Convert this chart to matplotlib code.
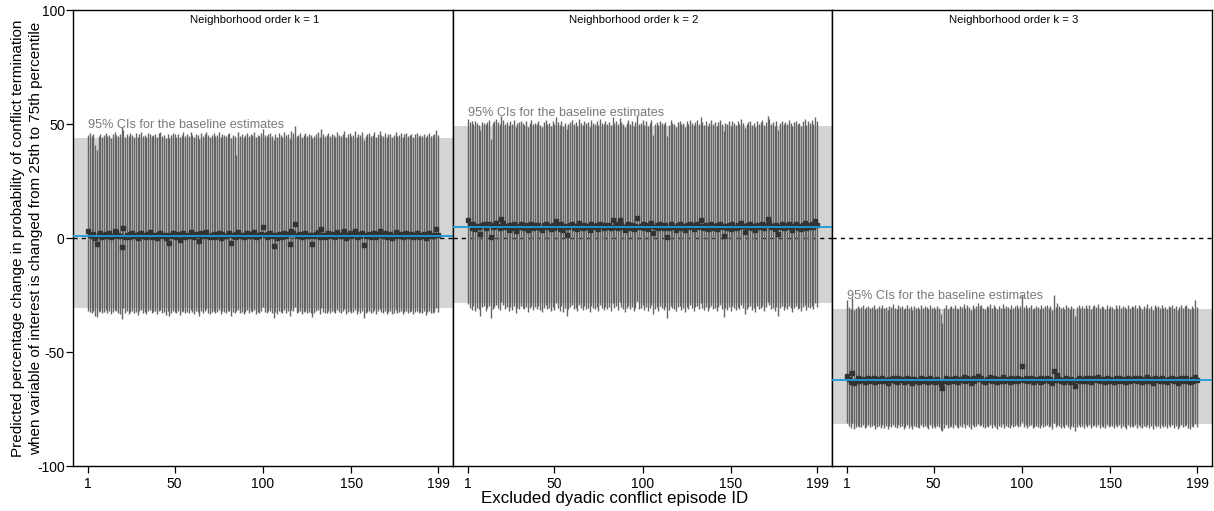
import matplotlib
matplotlib.use("Agg")
import matplotlib.pyplot as plt
import numpy as np

plt.rcParams['font.family'] = ['Liberation Sans', 'DejaVu Sans']

episode_ids = list(range(1, 200))
x_ticks = [1, 50, 100, 150, 199]
y_ticks = [-100, -50, 0, 50, 100]
panel_titles = ["Neighborhood order k = 1", "Neighborhood order k = 2", "Neighborhood order k = 3"]
band_label = "95% CIs for the baseline estimates"

# baseline estimates and their 95% CIs (k = 1, 2, 3)
baseline_est = [1.0, 5.0, -62.3]
baseline_lo = [-30.7, -28.5, -81.6]
baseline_hi = [43.9, 49.1, -31.1]

est_k1 = [3.2, 1.5, 0.8, 1.9, 0.2, -2.6, 1.1, 2.0, 0.5, 1.4, 1.8, 0.9, 2.2, 0.4, 1.0, 3.2, 2.6, 1.3, 0.7, -4.1,
          4.2, 0.6, 1.2, 0.3, 1.7, 2.4, 0.9, 1.1, 0.0, 1.6, 2.1, 0.8, 1.3, 0.5, 1.9, 2.5, 0.4, 1.0, 1.4, 0.2,
          1.8, 2.3, 0.7, 1.2, 0.1, 1.5, -2.3, 0.9, 2.0, 1.3, 0.6, 1.7, -0.8, 1.1, 2.2, 0.5, 1.4, 0.8, 2.6, 1.0,
          0.3, 1.6, 1.2, -1.2, 2.1, 0.7, 1.5, 2.8, 0.9, 0.4, 1.3, 1.9, 0.6, 1.1, 2.4, 0.2, 1.7, 1.0, 0.8, 1.5,
          2.0, -2.3, 1.2, 0.5, 1.8, 2.6, 0.9, 1.4, 0.3, 1.1, 2.2, 0.7, 1.6, 1.0, 2.5, 0.4, 1.3, 0.8, 1.9, 4.7,
          1.2, 0.6, 1.7, 2.1, 0.9, -3.4, 1.4, 0.2, 1.8, 1.1, 0.5, 2.3, 1.0, 1.6, -2.7, 3.0, 2.4, 6.0, 0.8, 1.3,
          1.9, 0.4, 1.2, 2.0, 0.7, 1.5, 1.1, -2.6, 0.9, 1.7, 2.5, 0.3, 3.8, 1.4, 0.6, 1.0, 2.2, 0.8, 1.6, 1.3,
          0.5, 2.7, 1.1, 0.9, 1.8, 3.1, 0.2, 1.4, 2.0, 0.7, 1.2, 2.9, 0.4, 1.6, 1.0, 2.3, -3.1, 0.8, 1.5, 1.9,
          0.6, 1.2, 2.4, 0.3, 1.7, 3.0, 1.1, 0.9, 2.1, 0.5, 1.4, 1.8, 0.2, 1.0, 2.6, 0.7, 1.3, 1.9, 0.4, 1.5,
          2.2, 0.8, 1.1, 1.7, 0.3, 1.4, 2.0, 0.6, 1.2, 0.9, 1.6, 0.1, 1.3, 2.1, 0.7, 1.0, 1.5, 3.8, 1.2]
hi_k1 = [45.2, 46.0, 44.8, 45.5, 40.8, 38.6, 44.9, 45.7, 44.3, 45.1, 46.2, 44.6, 45.3, 44.0, 45.8, 46.5, 45.0, 44.7, 45.4, 48.8,
         47.5, 44.2, 45.6, 44.9, 46.1, 45.3, 44.5, 45.9, 44.1, 45.7, 46.3, 44.8, 45.2, 44.4, 46.0, 45.5, 44.6, 45.1, 45.8, 44.3,
         45.9, 46.4, 44.7, 45.3, 44.0, 45.6, 43.8, 45.0, 46.2, 45.4, 44.5, 45.8, 44.2, 45.1, 46.3, 44.6, 45.5, 44.9, 46.7, 45.2,
         44.4, 45.7, 45.3, 43.6, 46.0, 44.8, 45.4, 46.6, 45.0, 44.5, 45.2, 45.9, 44.7, 45.1, 46.4, 44.2, 45.7, 45.0, 44.9, 45.6,
         46.1, 43.9, 45.3, 44.6, 36.4, 46.5, 44.9, 45.5, 44.3, 45.1, 46.2, 44.8, 45.7, 45.0, 46.4, 44.4, 45.3, 44.9, 45.9, 48.0,
         45.3, 44.6, 45.8, 46.1, 44.9, 42.8, 45.4, 44.2, 45.9, 45.1, 44.5, 46.3, 45.0, 45.7, 43.5, 46.8, 46.2, 49.2, 44.8, 45.3,
         45.9, 44.4, 45.2, 46.0, 44.7, 45.5, 45.1, 43.7, 44.9, 45.7, 46.4, 44.3, 47.6, 45.4, 44.6, 45.0, 46.2, 44.8, 45.6, 45.3,
         44.5, 46.6, 45.1, 44.9, 45.8, 46.9, 44.2, 45.4, 46.0, 44.7, 45.2, 46.8, 44.4, 45.6, 45.0, 46.3, 43.2, 44.8, 45.5, 45.9,
         44.6, 45.2, 46.4, 44.3, 45.7, 46.8, 45.1, 44.9, 46.1, 44.5, 45.4, 45.8, 44.2, 45.0, 46.5, 44.7, 45.3, 45.9, 44.4, 45.5,
         46.2, 44.8, 45.1, 45.7, 44.3, 45.4, 46.0, 44.6, 45.2, 44.9, 45.6, 44.1, 45.3, 46.1, 44.7, 45.0, 45.5, 47.3, 45.2]
lo_k1 = [-31.8, -32.6, -33.1, -32.0, -34.2, -34.8, -32.4, -31.9, -33.0, -32.3, -31.6, -32.8, -32.1, -33.4, -32.5, -31.7, -32.0, -32.9, -33.2, -35.6,
         -30.9, -33.0, -32.2, -33.5, -32.4, -31.8, -32.9, -32.6, -33.7, -32.1, -31.5, -32.7, -32.3, -33.2, -31.9, -31.6, -33.1, -32.5, -32.0, -33.4,
         -32.2, -31.7, -32.9, -32.4, -33.6, -32.0, -34.3, -32.8, -31.9, -32.5, -33.0, -32.1, -33.9, -32.6, -31.8, -33.1, -32.3, -32.7, -31.4, -32.5,
         -33.3, -32.0, -32.4, -34.0, -31.9, -32.8, -32.2, -31.3, -32.7, -33.2, -32.5, -32.0, -32.9, -32.6, -31.7, -33.4, -32.1, -32.6, -32.8, -32.2,
         -31.8, -34.2, -32.5, -33.1, -32.0, -31.6, -32.8, -32.3, -33.4, -32.6, -31.7, -32.9, -32.1, -32.6, -31.5, -33.2, -32.4, -32.8, -32.0, -30.4,
         -32.4, -33.0, -32.1, -31.8, -32.9, -35.0, -32.3, -33.5, -32.0, -32.6, -33.1, -31.7, -32.7, -32.2, -34.4, -31.4, -31.9, -30.1, -32.9, -32.5,
         -31.9, -33.2, -32.6, -32.0, -32.8, -32.3, -32.7, -34.6, -32.9, -32.1, -31.6, -33.4, -30.9, -32.4, -33.0, -32.7, -31.8, -32.9, -32.2, -32.5,
         -33.1, -31.5, -32.6, -32.8, -32.0, -31.2, -33.5, -32.4, -31.9, -32.9, -32.5, -31.4, -33.3, -32.2, -32.7, -31.8, -34.9, -32.9, -32.3, -32.0,
         -33.0, -32.5, -31.7, -33.4, -32.1, -31.3, -32.6, -32.8, -31.9, -33.2, -32.4, -32.0, -33.5, -32.7, -31.6, -32.9, -32.4, -31.9, -33.3, -32.3,
         -31.8, -32.9, -32.6, -32.1, -33.4, -32.4, -31.9, -33.1, -32.5, -32.8, -32.2, -33.6, -32.5, -31.8, -32.9, -32.7, -32.3, -30.8, -32.6]

est_k2 = [7.9, 5.6, 4.4, 6.1, 3.8, 5.2, 4.7, 1.6, 5.9, 6.3, 4.2, 5.5, 6.0, 0.6, 4.9, 5.8, 6.4, 5.1, 4.5, 8.2,
          6.6, 4.8, 5.3, 3.6, 5.9, 4.3, 6.2, 3.1, 5.4, 4.9, 6.0, 5.2, 4.6, 5.7, 3.4, 5.0, 6.1, 4.4, 5.5, 4.8,
          5.9, 4.2, 3.3, 5.6, 6.2, 4.7, 5.1, 3.9, 5.8, 4.5, 7.5, 5.3, 4.1, 6.0, 3.7, 5.4, 1.3, 4.9, 5.7, 6.3,
          4.6, 5.2, 3.8, 6.5, 5.0, 4.3, 5.9, 4.8, 5.4, 3.5, 6.1, 5.1, 4.7, 5.6, 4.0, 6.3, 5.3, 4.5, 5.8, 4.9,
          5.5, 4.2, 7.9, 5.0, 6.0, 4.4, 7.9, 5.7, 4.8, 3.6, 5.3, 6.1, 4.6, 5.9, 4.1, 5.4, 8.9, 4.7, 5.2, 6.2,
          4.3, 5.8, 3.9, 5.1, 6.4, 2.3, 4.8, 5.5, 4.2, 6.0, 5.0, 4.6, 5.7, 0.3, 4.4, 6.2, 5.3, 4.9, 3.7, 5.6,
          6.1, 4.5, 5.2, 3.4, 5.8, 4.7, 6.3, 5.0, 4.1, 5.5, 6.0, 4.8, 7.9, 5.3, 4.4, 5.9, 3.8, 5.1, 6.2, 4.6,
          5.4, 4.0, 5.7, 6.3, 4.9, 1.0, 5.2, 4.5, 5.8, 3.9, 6.1, 5.0, 4.3, 5.6, 4.7, 6.4, 5.3, 2.8, 4.8, 5.5,
          6.0, 4.4, 5.1, 3.6, 5.9, 4.7, 5.4, 6.2, 4.2, 5.7, 8.2, 6.6, 4.9, 5.3, 3.9, 5.8, 1.6, 5.0, 6.1, 4.5,
          5.6, 4.8, 6.3, 5.1, 3.7, 5.4, 6.0, 4.6, 5.2, 4.1, 5.9, 6.5, 4.4, 5.7, 5.0, 6.2, 4.9, 7.5, 5.8]
hi_k2 = [52.4, 50.8, 51.5, 49.9, 51.2, 50.4, 49.6, 47.3, 51.0, 50.6, 49.8, 50.9, 51.8, 43.5, 50.3, 51.4, 52.1, 50.7, 49.9, 53.6,
         51.9, 50.2, 50.8, 49.4, 51.3, 50.0, 51.6, 48.6, 50.5, 50.9, 51.5, 50.3, 49.7, 51.1, 48.9, 50.6, 51.7, 49.8, 50.4, 50.1,
         51.2, 49.6, 48.8, 50.7, 51.8, 50.2, 50.6, 49.3, 51.4, 50.0, 53.1, 50.8, 49.5, 51.3, 49.1, 50.5, 47.6, 50.1, 51.0, 51.9,
         49.9, 50.7, 49.2, 52.0, 50.4, 49.7, 51.2, 50.3, 50.8, 48.9, 51.6, 50.5, 50.0, 51.1, 49.4, 52.2, 50.6, 49.8, 51.3, 50.2,
         50.9, 49.5, 53.0, 50.4, 51.5, 49.9, 52.8, 51.0, 50.1, 48.7, 50.6, 51.7, 49.8, 51.2, 49.3, 50.7, 54.0, 50.0, 50.5, 51.6,
         49.6, 51.1, 49.0, 50.4, 51.9, 45.2, 50.2, 50.8, 49.5, 51.4, 50.3, 49.9, 51.0, 44.8, 49.7, 51.6, 50.6, 50.2, 48.9, 50.9,
         51.5, 49.8, 50.5, 48.8, 51.2, 50.0, 51.8, 50.3, 49.4, 50.9, 51.6, 50.1, 53.2, 50.7, 49.6, 51.3, 49.1, 50.4, 51.9, 49.9,
         50.8, 49.2, 51.0, 51.7, 50.2, 47.1, 50.5, 49.8, 51.3, 49.0, 51.5, 50.3, 49.6, 51.1, 50.0, 52.0, 50.6, 48.3, 50.1, 50.9,
         51.4, 49.7, 50.4, 48.9, 51.3, 50.0, 50.8, 51.6, 49.5, 51.0, 53.4, 52.1, 50.2, 50.7, 49.2, 51.2, 47.5, 50.3, 51.5, 49.8,
         51.0, 50.1, 51.7, 50.4, 49.0, 50.8, 51.4, 49.9, 50.5, 49.3, 51.2, 52.0, 49.6, 51.1, 50.3, 51.8, 50.2, 53.0, 51.3]
lo_k2 = [-28.9, -30.6, -31.5, -29.8, -32.0, -30.9, -31.3, -34.1, -30.2, -29.7, -31.8, -30.5, -30.0, -35.0, -31.1, -30.3, -29.6, -30.8, -31.4, -28.0,
         -29.2, -31.0, -30.4, -32.2, -30.1, -31.6, -29.9, -32.7, -30.7, -31.0, -29.8, -30.6, -31.2, -30.3, -32.5, -30.9, -29.7, -31.5, -30.4, -31.1,
         -30.0, -31.7, -32.6, -30.5, -29.6, -31.2, -30.8, -32.0, -30.2, -31.4, -28.4, -30.6, -31.9, -29.8, -32.3, -30.7, -34.4, -31.0, -30.3, -29.5,
         -31.3, -30.6, -32.1, -29.3, -30.9, -31.6, -30.0, -31.1, -30.5, -32.4, -29.7, -30.8, -31.2, -30.4, -31.9, -29.4, -30.7, -31.5, -30.1, -31.0,
         -30.4, -31.8, -28.3, -30.9, -29.9, -31.7, -28.2, -30.3, -31.1, -32.3, -30.6, -29.8, -31.3, -30.1, -32.0, -30.5, -27.6, -31.2, -30.7, -29.6,
         -31.5, -30.2, -32.0, -30.8, -29.5, -33.5, -31.0, -30.4, -31.8, -29.9, -30.9, -31.4, -30.2, -35.3, -31.5, -29.7, -30.6, -31.0, -32.1, -30.3,
         -29.8, -31.6, -30.8, -32.6, -30.2, -31.2, -29.6, -30.9, -31.9, -30.4, -29.9, -31.1, -28.3, -30.6, -31.6, -30.1, -32.2, -30.8, -29.7, -31.3,
         -30.5, -32.0, -30.3, -29.6, -31.0, -34.8, -30.7, -31.4, -30.1, -32.1, -29.8, -30.9, -31.7, -30.4, -31.2, -29.5, -30.6, -33.2, -31.0, -30.4,
         -29.9, -31.5, -30.8, -32.4, -30.0, -31.3, -30.6, -29.8, -31.8, -30.2, -27.9, -29.4, -31.1, -30.6, -32.1, -30.1, -34.3, -30.9, -29.9, -31.4,
         -30.3, -31.1, -29.7, -30.8, -32.3, -30.5, -29.9, -31.3, -30.7, -31.9, -30.1, -29.5, -31.6, -30.2, -30.9, -29.8, -31.0, -28.4, -30.1]

est_k3 = [-60.4, -61.8, -63.0, -59.1, -63.4, -62.6, -61.5, -62.9, -62.2, -61.7, -63.1, -62.4, -61.6, -62.8, -62.0, -61.4, -63.3, -62.5, -61.9, -62.7,
          -61.3, -62.9, -62.1, -63.5, -61.8, -62.4, -61.2, -62.7, -63.0, -61.6, -62.3, -61.9, -63.2, -62.6, -61.5, -62.8, -62.0, -63.4, -61.7, -62.5,
          -62.2, -63.1, -61.4, -62.7, -61.9, -62.4, -63.3, -61.6, -62.9, -62.1, -63.0, -61.8, -62.5, -64.1, -65.6, -62.8, -61.5, -63.2, -62.3, -61.7,
          -62.9, -61.4, -62.6, -63.1, -61.9, -62.3, -61.0, -62.8, -61.6, -62.2, -63.4, -61.3, -62.5, -61.8, -60.7, -62.0, -61.5, -62.7, -63.0, -61.9,
          -62.4, -61.1, -62.8, -61.6, -62.2, -63.3, -61.7, -62.5, -61.0, -62.9, -61.8, -62.3, -63.1, -61.4, -62.6, -62.0, -61.5, -62.7, -61.9, -56.1,
          -62.3, -61.6, -62.9, -62.1, -61.4, -63.0, -62.5, -61.8, -62.2, -63.2, -61.5, -62.7, -62.0, -61.3, -62.6, -61.9, -63.4, -58.2, -62.4, -60.0,
          -61.7, -62.8, -62.1, -63.0, -61.5, -62.4, -63.3, -61.9, -62.6, -64.9, -62.2, -61.4, -62.7, -61.8, -62.9, -61.2, -62.5, -61.6, -63.1, -62.0,
          -61.5, -62.3, -61.1, -62.8, -61.7, -62.4, -63.2, -61.3, -62.6, -61.9, -62.1, -63.0, -61.6, -62.5, -61.2, -62.8, -61.8, -62.3, -63.3, -61.4,
          -62.7, -61.9, -62.2, -61.3, -62.9, -61.6, -62.4, -63.1, -61.8, -62.5, -61.1, -62.8, -62.0, -63.4, -61.5, -62.3, -61.7, -62.9, -61.4, -62.6,
          -62.1, -63.2, -61.7, -62.4, -61.2, -62.8, -61.9, -63.5, -62.3, -61.6, -62.7, -62.0, -61.3, -62.9, -63.3, -61.8, -62.5, -61.0, -62.2]
hi_k3 = [-27.3, -30.2, -31.0, -26.5, -31.5, -30.6, -29.8, -30.9, -30.3, -29.6, -31.2, -30.4, -29.7, -30.8, -30.1, -29.5, -31.3, -30.5, -29.9, -30.7,
         -29.4, -30.9, -30.2, -31.6, -29.8, -30.4, -29.1, -30.7, -31.0, -29.6, -30.3, -29.9, -31.2, -30.6, -29.5, -30.8, -30.0, -31.4, -29.7, -30.5,
         -30.2, -31.1, -29.4, -30.7, -29.9, -30.4, -31.3, -29.6, -30.9, -30.1, -31.0, -29.8, -30.5, -33.5, -37.2, -30.8, -29.5, -31.2, -30.3, -29.7,
         -30.9, -29.4, -30.6, -31.1, -29.9, -30.3, -28.9, -30.8, -29.6, -30.2, -31.4, -29.3, -30.5, -29.8, -28.6, -30.0, -29.5, -30.7, -31.0, -29.9,
         -30.4, -29.1, -30.8, -29.6, -30.2, -31.3, -29.7, -30.5, -29.0, -30.9, -29.8, -30.3, -31.1, -29.4, -30.6, -30.0, -29.5, -30.7, -29.9, -24.8,
         -30.3, -29.6, -30.9, -30.1, -29.4, -31.0, -30.5, -29.8, -30.2, -31.2, -29.5, -30.7, -30.0, -29.3, -30.6, -29.9, -31.4, -25.0, -30.4, -28.4,
         -29.7, -30.8, -30.1, -31.0, -29.5, -30.4, -31.3, -29.9, -30.6, -34.4, -30.2, -29.4, -30.7, -29.8, -30.9, -29.2, -30.5, -29.6, -31.1, -30.0,
         -29.5, -30.3, -29.1, -30.8, -29.7, -30.4, -31.2, -29.3, -30.6, -29.9, -30.1, -31.0, -29.6, -30.5, -29.2, -30.8, -29.8, -30.3, -31.3, -29.4,
         -30.7, -29.9, -30.2, -29.3, -30.9, -29.6, -30.4, -31.1, -29.8, -30.5, -29.1, -30.8, -30.0, -31.4, -29.5, -30.3, -29.7, -30.9, -29.4, -30.6,
         -30.1, -31.2, -29.7, -30.4, -29.2, -30.8, -29.9, -31.5, -30.3, -29.6, -30.7, -30.0, -29.3, -30.9, -31.3, -29.8, -30.5, -27.4, -30.2]
lo_k3 = [-81.2, -82.6, -83.4, -81.0, -83.7, -82.9, -82.3, -83.1, -82.7, -82.2, -83.5, -82.8, -82.1, -83.0, -82.5, -82.0, -83.6, -82.9, -82.4, -83.2,
         -82.0, -83.3, -82.6, -83.8, -82.3, -82.9, -81.8, -83.1, -83.4, -82.2, -82.8, -82.4, -83.6, -83.0, -82.1, -83.2, -82.5, -83.7, -82.3, -82.9,
         -82.7, -83.5, -82.0, -83.1, -82.4, -82.9, -83.6, -82.2, -83.3, -82.6, -83.4, -82.3, -83.0, -84.1, -84.6, -83.2, -82.1, -83.5, -82.8, -82.3,
         -83.3, -82.0, -83.0, -83.4, -82.4, -82.8, -81.7, -83.2, -82.2, -82.7, -83.7, -82.0, -82.9, -82.4, -81.5, -82.6, -82.1, -83.1, -83.3, -82.4,
         -82.9, -81.8, -83.2, -82.2, -82.7, -83.6, -82.3, -82.9, -81.7, -83.3, -82.4, -82.8, -83.4, -82.0, -83.0, -82.5, -82.1, -83.1, -82.4, -80.6,
         -82.8, -82.2, -83.3, -82.6, -82.0, -83.4, -82.9, -82.3, -82.7, -83.5, -82.1, -83.1, -82.5, -81.9, -83.0, -82.4, -83.7, -81.3, -82.9, -82.0,
         -82.3, -83.2, -82.6, -83.4, -82.1, -82.9, -83.6, -82.4, -83.0, -84.8, -82.7, -82.0, -83.1, -82.3, -83.3, -81.9, -82.9, -82.2, -83.5, -82.5,
         -82.1, -82.8, -81.8, -83.2, -82.3, -82.9, -83.5, -82.0, -83.0, -82.4, -82.6, -83.4, -82.2, -82.9, -81.9, -83.2, -82.3, -82.8, -83.6, -82.0,
         -83.1, -82.4, -82.7, -81.9, -83.3, -82.2, -82.9, -83.5, -82.3, -83.0, -81.8, -83.2, -82.5, -83.7, -82.1, -82.8, -82.3, -83.3, -82.0, -83.0,
         -82.6, -83.5, -82.2, -82.9, -81.9, -83.2, -82.4, -83.8, -82.8, -82.1, -83.1, -82.5, -81.9, -83.3, -83.6, -82.3, -82.9, -81.5, -82.7]

estimates = [est_k1, est_k2, est_k3]
uppers = [hi_k1, hi_k2, hi_k3]
lowers = [lo_k1, lo_k2, lo_k3]

W, H = 1214, 511
fig = plt.figure(figsize=(W / 100, H / 100), dpi=100)

left_px = [73, 453, 832]
right_px = [453, 832, 1212]
top_px, bot_px = 10, 466

for i in range(3):
    ax = fig.add_axes([left_px[i] / W, 1 - bot_px / H,
                       (right_px[i] - left_px[i]) / W, (bot_px - top_px) / H])
    ax.set_xlim(-7.5, 207.5)
    ax.set_ylim(-100, 100)
    ax.axhspan(baseline_lo[i], baseline_hi[i], color='#d4d4d4', lw=0, zorder=0)
    ax.axhline(0, color='black', lw=1.0, ls=(0, (3, 3)), zorder=1)
    ax.vlines(episode_ids, lowers[i], uppers[i], color='#646464', lw=1.0, zorder=2)
    ax.plot(episode_ids, estimates[i], ls='none', marker='s', ms=2.2,
            color='#333333', mec='#333333', zorder=3)
    ax.axhline(baseline_est[i], color='#1e9bd7', lw=1.3, zorder=4)
    ax.text(1, baseline_hi[i] + 3.2, band_label, color='#7a7a7a', fontsize=9.1,
            ha='left', va='bottom', zorder=5)
    ax.text(0.477, 0.99, panel_titles[i], transform=ax.transAxes, fontsize=8.2,
            ha='center', va='top')
    for s in ax.spines.values():
        s.set_linewidth(1.0)
        s.set_color('black')
    ax.set_xticks(x_ticks)
    ax.set_xticklabels([str(t) for t in x_ticks], fontsize=10)
    ax.tick_params(axis='x', direction='out', length=5, width=0.9, pad=3)
    if i == 0:
        ax.set_yticks(y_ticks)
        ax.set_yticklabels([str(t) for t in y_ticks], fontsize=10)
        ax.tick_params(axis='y', direction='out', length=5, width=0.9, pad=1)
    else:
        ax.set_yticks([])

fig.text(615 / W, 1 - 498 / H, "Excluded dyadic conflict episode ID", fontsize=12.2,
         ha='center', va='center')
fig.text(27 / W, 1 - 238 / H,
         "Predicted percentage change in probability of conflict termination\n"
         "when variable of interest is changed from 25th to 75th percentile",
         fontsize=11, rotation=90, ha='center', va='center', linespacing=1.3)

fig.savefig("out.png", dpi=100)
